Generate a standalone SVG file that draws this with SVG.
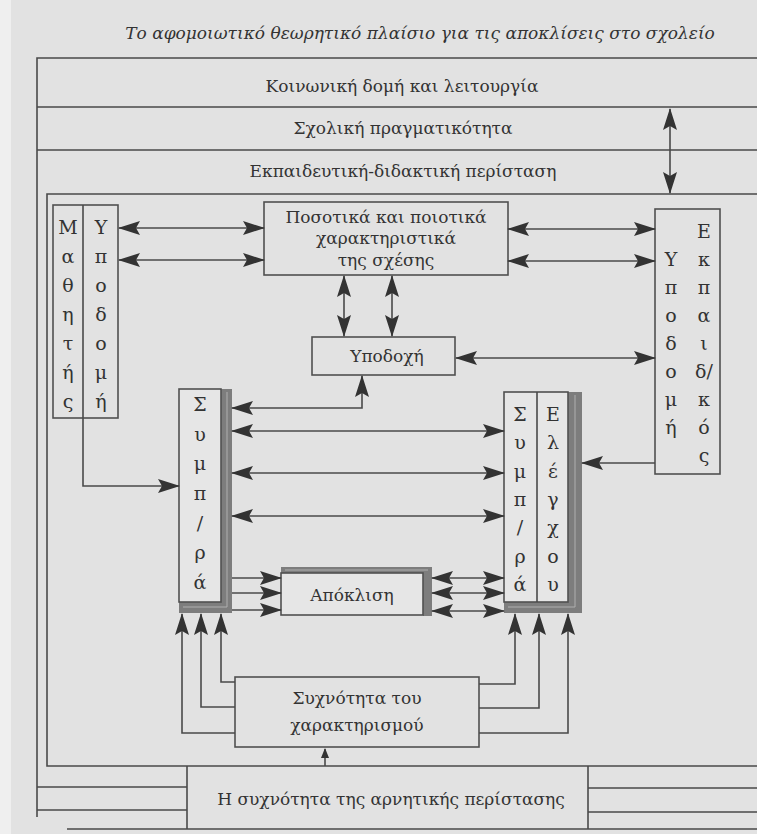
<svg xmlns="http://www.w3.org/2000/svg" width="757" height="834" viewBox="0 0 757 834">
<defs>
<style>
.ln{fill:none;stroke:#4a4a4a;stroke-width:1.6}
.bx{fill:none;stroke:#505050;stroke-width:1.6}
.t{font-family:"DejaVu Serif","Liberation Serif",serif;font-size:17px;fill:#333;text-anchor:middle}
.lt{font-size:19px}
.it{font-style:italic}
.sh{fill:#7d7d7d}
.shl{stroke:#b0b0b0;stroke-width:1}
.ar{fill:none;stroke:#4a4a4a;stroke-width:1.6;marker-end:url(#ah)}
.ar2{fill:none;stroke:#4a4a4a;stroke-width:1.6;marker-start:url(#ah);marker-end:url(#ah)}
</style>
<marker id="ah" markerUnits="userSpaceOnUse" markerWidth="22" markerHeight="16" refX="21" refY="7" orient="auto-start-reverse">
<path d="M0,0 L22,7 L0,14 L4,7 z" fill="#333"/>
</marker>
<marker id="ahs" markerUnits="userSpaceOnUse" markerWidth="10" markerHeight="8" refX="9" refY="4" orient="auto">
<path d="M0,0 L10,4 L0,8 z" fill="#333"/>
</marker>
</defs>
<rect width="757" height="834" fill="#e2e2e2"/>
<rect width="11" height="834" fill="#efefef"/>
<text class="t it" x="420" y="39" font-size="19">Το αφομοιωτικό θεωρητικό πλαίσιο για τις αποκλίσεις στο σχολείο</text>

<g id="frame">
<path class="ln" d="M757,58 H37 V817"/>
<path class="ln" d="M37,107 H757 M37,150 H757"/>
<path class="ln" d="M757,194 H47 V766 H757"/>
<path class="ln" d="M37,787 H187 M37,810 H187 M67,829 H757"/>
<path class="ln" d="M588,788 H757 M588,812 H757"/>
</g>
<g id="social"><text class="t" x="402" y="92">Κοινωνική δομή και λειτουργία</text></g>
<g id="school"><text class="t" x="403" y="134">Σχολική πραγματικότητα</text></g>
<g id="teaching"><text class="t" x="403" y="177">Εκπαιδευτική-διδακτική περίσταση</text></g>

<g id="student">
<rect class="bx" x="53" y="205" width="65" height="213"/>
<line class="ln" x1="83" y1="205" x2="83" y2="418"/>
<g class="t lt">
<text x="68" y="234">Μ</text><text x="68" y="263">α</text><text x="68" y="292">θ</text><text x="68" y="321">η</text><text x="68" y="350">τ</text><text x="68" y="379">ή</text><text x="68" y="408">ς</text>
<text x="101" y="234">Υ</text><text x="101" y="263">π</text><text x="101" y="292">ο</text><text x="101" y="321">δ</text><text x="101" y="350">ο</text><text x="101" y="379">μ</text><text x="101" y="408">ή</text>
</g>
</g>

<g id="quant">
<rect class="bx" x="264" y="202" width="244" height="73"/>
<text class="t" x="386" y="223">Ποσοτικά και ποιοτικά</text>
<text class="t" x="386" y="244">χαρακτηριστικά</text>
<text class="t" x="386" y="266">της σχέσης</text>
</g>

<g id="teacher">
<rect class="bx" x="655" y="209" width="65" height="265"/>
<g class="t lt">
<text x="704" y="238">Ε</text><text x="704" y="266">κ</text><text x="704" y="294">π</text><text x="704" y="322">α</text><text x="704" y="350">ι</text><text x="704" y="378">δ/</text><text x="704" y="406">κ</text><text x="704" y="434">ό</text><text x="704" y="462">ς</text>
<text x="671" y="266">Υ</text><text x="671" y="294">π</text><text x="671" y="322">ο</text><text x="671" y="350">δ</text><text x="671" y="378">ο</text><text x="671" y="406">μ</text><text x="671" y="434">ή</text>
</g>
</g>

<g id="reception">
<rect class="bx" x="312" y="337" width="143" height="38"/>
<text class="t" x="387" y="362">Υποδοχή</text>
</g>

<g id="behaviourL">
<rect class="sh" x="221" y="389" width="11" height="224"/>
<rect class="sh" x="179" y="602" width="53" height="11"/>
<line class="shl" x1="227" y1="392" x2="227" y2="607"/>
<line class="shl" x1="183" y1="607" x2="227" y2="607"/>
<rect x="179" y="389" width="42" height="213" fill="#e6e6e6" stroke="#505050" stroke-width="1.6"/>
<g class="t lt">
<text x="200" y="411">Σ</text><text x="200" y="441">υ</text><text x="200" y="470">μ</text><text x="200" y="500">π</text><text x="200" y="530">/</text><text x="200" y="559">ρ</text><text x="200" y="589">ά</text>
</g>
</g>

<g id="behaviourR">
<rect class="sh" x="568" y="392" width="14" height="221"/>
<rect class="sh" x="504" y="602" width="78" height="11"/>
<line class="shl" x1="575" y1="395" x2="575" y2="607"/>
<line class="shl" x1="508" y1="607" x2="575" y2="607"/>
<rect x="504" y="392" width="64" height="210" fill="#e6e6e6" stroke="#505050" stroke-width="1.6"/>
<line class="ln" x1="537" y1="392" x2="537" y2="602"/>
<g class="t lt">
<text x="520" y="421">Σ</text><text x="520" y="449">υ</text><text x="520" y="478">μ</text><text x="520" y="506">π</text><text x="520" y="534">/</text><text x="520" y="563">ρ</text><text x="520" y="591">ά</text>
<text x="553" y="421">Ε</text><text x="553" y="449">λ</text><text x="553" y="478">έ</text><text x="553" y="506">γ</text><text x="553" y="534">χ</text><text x="553" y="563">ο</text><text x="553" y="591">υ</text>
</g>
</g>

<g id="deviation">
<rect class="sh" x="281" y="567" width="151" height="7"/>
<rect class="sh" x="423" y="567" width="9" height="49"/>
<line class="shl" x1="285" y1="570" x2="428" y2="570"/>
<rect x="281" y="573" width="142" height="42" fill="#e6e6e6" stroke="#505050" stroke-width="1.6"/>
<text class="t" x="352" y="601">Απόκλιση</text>
</g>

<g id="frequency">
<rect class="bx" x="235" y="677" width="244" height="70"/>
<text class="t" x="357" y="704">Συχνότητα του</text>
<text class="t" x="357" y="731">χαρακτηρισμού</text>
</g>

<g id="negative">
<line class="ln" x1="187" y1="766" x2="187" y2="829"/>
<line class="ln" x1="588" y1="766" x2="588" y2="829"/>
<text class="t" x="391" y="805">Η συχνότητα της αρνητικής περίστασης</text>
</g>

<g id="connectors">
<path class="ar2" d="M670,109 V193"/>
<path class="ar2" d="M119,228 H264"/>
<path class="ar2" d="M119,260 H264"/>
<path class="ar2" d="M508,229 H655"/>
<path class="ar2" d="M508,261 H655"/>
<path class="ar2" d="M344,276 V336"/>
<path class="ar2" d="M392,276 V336"/>
<path class="ar2" d="M456,358 H655"/>
<path class="ar2" d="M232,408 H362 V376"/>
<path class="ar2" d="M232,431 H504"/>
<path class="ar2" d="M232,473 H504"/>
<path class="ar2" d="M232,516 H504"/>
<path class="ar" d="M655,463 H582"/>
<path class="ar" d="M83,418 V486 H179"/>
<path class="ar" d="M232,578 H281"/>
<path class="ar" d="M232,593 H281"/>
<path class="ar" d="M232,610 H281"/>
<path class="ar2" d="M432,578 H504"/>
<path class="ar2" d="M432,593 H504"/>
<path class="ar2" d="M432,611 H504"/>
<path class="ar" d="M235,682 H221 V614"/>
<path class="ar" d="M235,707 H201 V614"/>
<path class="ar" d="M235,733 H182 V614"/>
<path class="ar" d="M479,684 H515 V614"/>
<path class="ar" d="M479,708 H539 V614"/>
<path class="ar" d="M479,733 H568 V614"/>
<path class="ln" d="M325,766 V749" marker-end="url(#ahs)"/>
</g>
</svg>
